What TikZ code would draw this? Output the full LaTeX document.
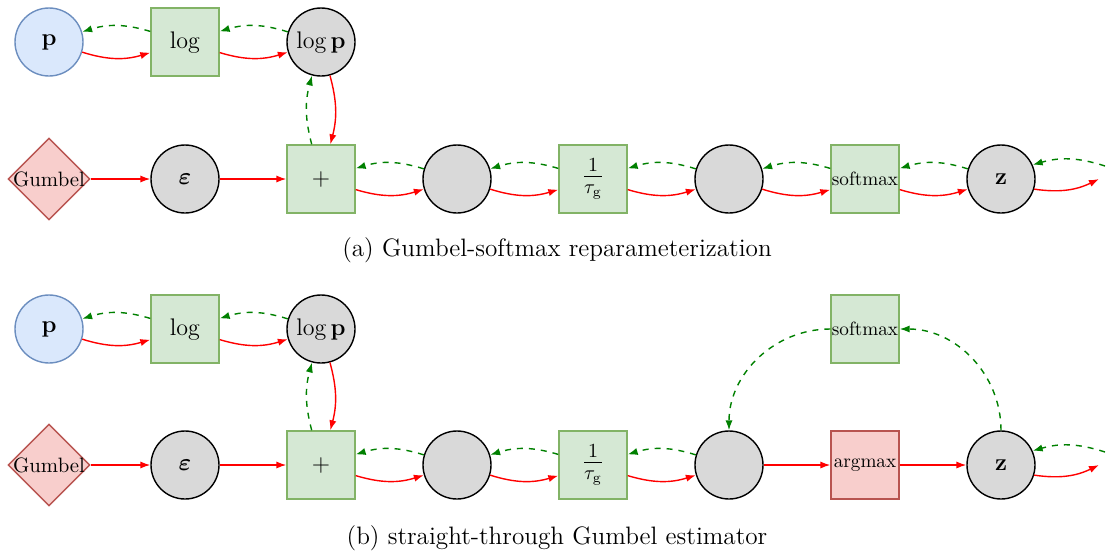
\documentclass[tikz,border=0pt,12pt]{standalone}
\usepackage{amsmath}
\usetikzlibrary{shapes.geometric,arrows.meta}
\definecolor{bluefill}{HTML}{DAE8FC}
\definecolor{bluebd}{HTML}{6C8EBF}
\definecolor{greenfill}{HTML}{D5E8D4}
\definecolor{greenbd}{HTML}{82B366}
\definecolor{redfill}{HTML}{F8CECC}
\definecolor{redbd}{HTML}{B85450}
\definecolor{varfill}{HTML}{D9D9D9}
\definecolor{gradgreen}{HTML}{008000}
\newcommand{\basefont}{\fontsize{12.6}{15}\selectfont}
\newcommand{\fracfont}{\fontsize{14}{17}\selectfont}
\newcommand{\opfont}{\fontsize{9.6}{11}\selectfont}
\newcommand{\gumfont}{\fontsize{10.4}{12}\selectfont}
\begin{document}
\begin{tikzpicture}[x=0.5pt,y=-0.5pt,
  every node/.style={font=\basefont},
  var/.style={circle,draw=black,fill=varfill,minimum size=34pt,inner sep=0pt,line width=0.7pt},
  inp/.style={circle,draw=bluebd,fill=bluefill,minimum size=34pt,inner sep=0pt,line width=0.7pt},
  op/.style={rectangle,draw=greenbd,fill=greenfill,minimum size=34pt,inner sep=0pt,line width=0.7pt},
  opred/.style={op,draw=redbd,fill=redfill},
  dist/.style={diamond,draw=redbd,fill=redfill,minimum size=41pt,inner sep=0pt,line width=0.7pt,
    label={[font=\gumfont]center:Gumbel}},
  fwd/.style={draw=red,line width=0.7pt,-{Latex[length=5pt,width=3.6pt]}},
  bwd/.style={draw=gradgreen,line width=0.7pt,dashed,-{Latex[length=5pt,width=3.6pt]}},
  captext/.style={inner sep=0pt}
]
\useasboundingbox (0,0) rectangle (1115,553);

% ---------- panel (a) ----------
\node[inp] (ap) at (49,42) {$\mathbf{p}$};
\node[op] (alog) at (185,42) {$\log$};
\node[var] (alogp) at (321,42) {$\log\mathbf{p}$};
\node[dist] (ag) at (49,179) {};
\node[var] (aeps) at (185,179) {$\boldsymbol{\varepsilon}$};
\node[op] (aplus) at (321,179) {$+$};
\node[var] (ah1) at (457,179) {};
\node[op,font=\fracfont] (atau) at (593,179) {$\frac{1}{\tau_{\mathrm{g}}}$};
\node[var] (ah2) at (729,179) {};
\node[op,font=\opfont] (asm) at (865,179) {softmax};
\node[var] (az) at (1001,179) {$\mathbf{z}$};
\coordinate (azr) at (1099,179);
\coordinate (azg) at (1105,166);

\draw[fwd] (ap) to[bend right=17] (alog);
\draw[bwd] (alog) to[bend right=17] (ap);
\draw[fwd] (alog) to[bend right=17] (alogp);
\draw[bwd] (alogp) to[bend right=17] (alog);
\draw[fwd] (alogp) to[bend left=15] (aplus);
\draw[bwd] (aplus) to[bend left=15] (alogp);
\draw[fwd] (ag) -- (aeps);
\draw[fwd] (aeps) -- (aplus);
\draw[fwd] (aplus) to[bend right=17] (ah1);
\draw[bwd] (ah1) to[bend right=17] (aplus);
\draw[fwd] (ah1) to[bend right=17] (atau);
\draw[bwd] (atau) to[bend right=17] (ah1);
\draw[fwd] (atau) to[bend right=17] (ah2);
\draw[bwd] (ah2) to[bend right=17] (atau);
\draw[fwd] (ah2) to[bend right=17] (asm);
\draw[bwd] (asm) to[bend right=17] (ah2);
\draw[fwd] (asm) to[bend right=17] (az);
\draw[bwd] (az) to[bend right=17] (asm);
\draw[fwd] (az) to[bend right=17] (azr);
\draw[bwd] (azg) to[bend right=17] (az);

\node[captext] (capa) at (557,250) {(a)~Gumbel-softmax reparameterization};

% ---------- panel (b) ----------
\node[inp] (bp) at (49,329) {$\mathbf{p}$};
\node[op] (blog) at (185,329) {$\log$};
\node[var] (blogp) at (321,329) {$\log\mathbf{p}$};
\node[dist] (bg) at (49,465) {};
\node[var] (beps) at (185,465) {$\boldsymbol{\varepsilon}$};
\node[op] (bplus) at (321,465) {$+$};
\node[var] (bh1) at (457,465) {};
\node[op,font=\fracfont] (btau) at (593,465) {$\frac{1}{\tau_{\mathrm{g}}}$};
\node[var] (bh2) at (729,465) {};
\node[opred,font=\opfont] (barg) at (865,465) {argmax};
\node[op,font=\opfont] (bsm) at (865,329) {softmax};
\node[var] (bz) at (1001,465) {$\mathbf{z}$};
\coordinate (bzr) at (1099,465);
\coordinate (bzg) at (1105,452);

\draw[fwd] (bp) to[bend right=17] (blog);
\draw[bwd] (blog) to[bend right=17] (bp);
\draw[fwd] (blog) to[bend right=17] (blogp);
\draw[bwd] (blogp) to[bend right=17] (blog);
\draw[fwd] (blogp) to[bend left=15] (bplus);
\draw[bwd] (bplus) to[bend left=15] (blogp);
\draw[fwd] (bg) -- (beps);
\draw[fwd] (beps) -- (bplus);
\draw[fwd] (bplus) to[bend right=17] (bh1);
\draw[bwd] (bh1) to[bend right=17] (bplus);
\draw[fwd] (bh1) to[bend right=17] (btau);
\draw[bwd] (btau) to[bend right=17] (bh1);
\draw[fwd] (btau) to[bend right=17] (bh2);
\draw[bwd] (bh2) to[bend right=17] (btau);
\draw[fwd] (bh2) -- (barg);
\draw[fwd] (barg) -- (bz);
\draw[bwd] (bz.north) to[out=90,in=0] (bsm.east);
\draw[bwd] (bsm.west) to[out=180,in=90] (bh2.north);
\draw[fwd] (bz) to[bend right=17] (bzr);
\draw[bwd] (bzg) to[bend right=17] (bz);

\node[captext] (capb) at (557,538) {(b)~straight-through Gumbel estimator};
\end{tikzpicture}
\end{document}
